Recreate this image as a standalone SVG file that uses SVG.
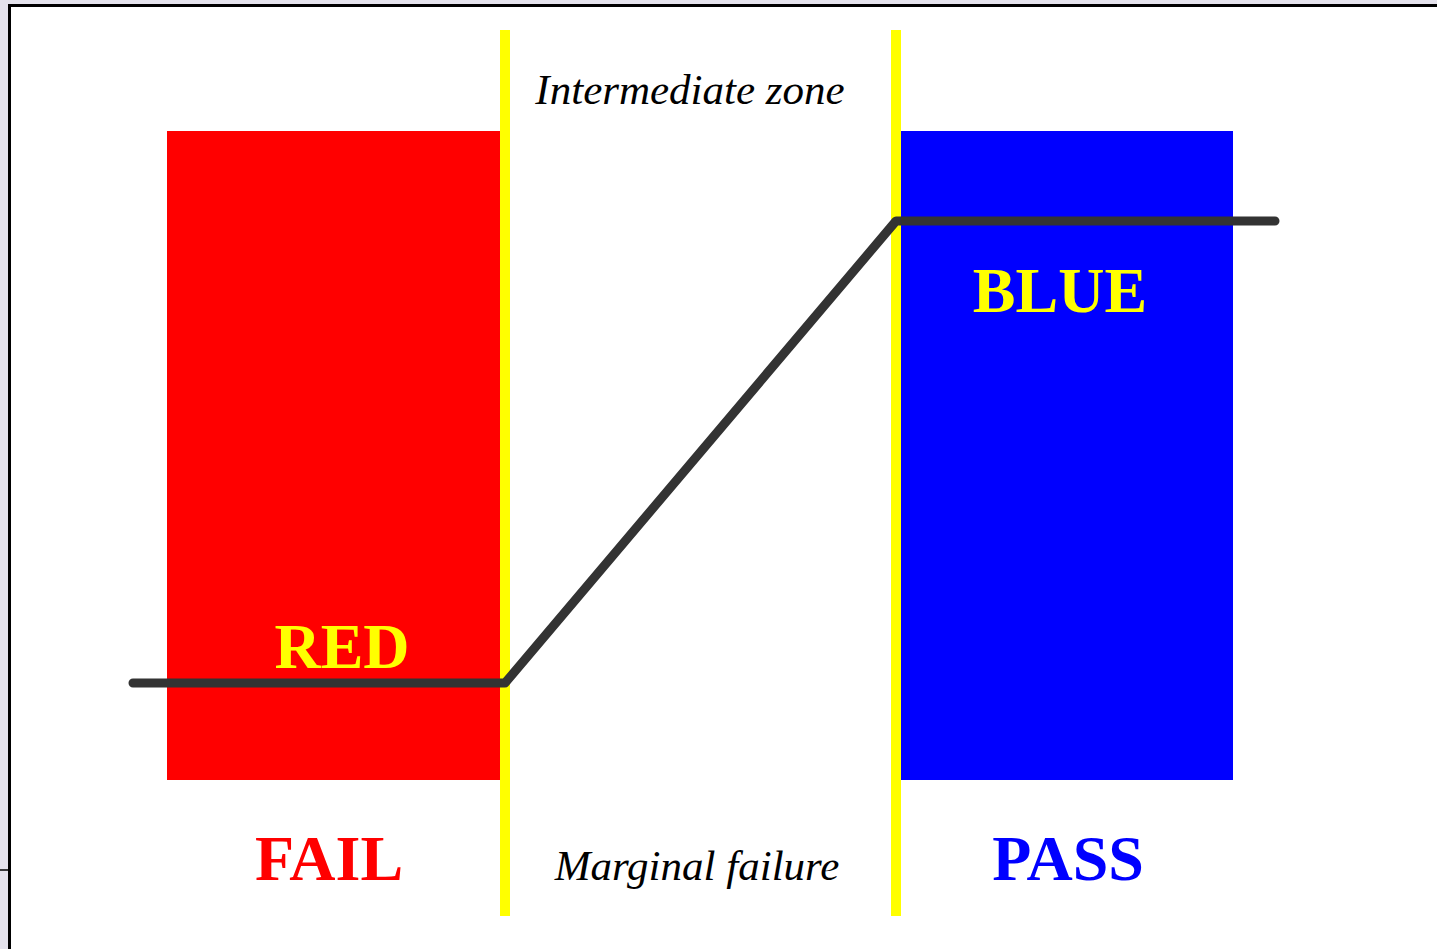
<svg xmlns="http://www.w3.org/2000/svg" width="1437" height="949" viewBox="0 0 1437 949">
<style>
.b{font-family:"Liberation Serif","Times New Roman",serif;font-weight:bold;font-size:64px;text-anchor:middle}
.i{font-family:"Liberation Serif","Times New Roman",serif;font-style:italic;font-size:43px;text-anchor:middle;fill:#000}
.y{fill:#ffff00}
</style>
<rect x="0" y="0" width="1437" height="949" fill="#e4e2ec"/>
<rect x="9" y="5" width="1428" height="944" fill="#ffffff"/>
<line x1="9.5" y1="4" x2="9.5" y2="949" stroke="#000" stroke-width="3"/>
<line x1="8" y1="5.5" x2="1437" y2="5.5" stroke="#000" stroke-width="3"/>
<line x1="0" y1="870" x2="8" y2="870" stroke="#000" stroke-width="1.5"/>
<g id="red"><rect x="167" y="131" width="333" height="649" fill="#ff0000"/><text class="b y" x="342" y="668">RED</text></g>
<g id="blue"><rect x="901" y="131" width="332" height="649" fill="#0000ff"/><text class="b y" x="1060" y="312">BLUE</text></g>
<g id="dividers"><rect x="500" y="30" width="10" height="886" fill="#ffff00"/><rect x="891" y="30" width="10" height="886" fill="#ffff00"/></g>
<g id="connectors"><polyline points="133,683 505,683 896,221 1275,221" fill="none" stroke="#333333" stroke-width="9" stroke-linecap="round" stroke-linejoin="round"/></g>
<g id="labels">
<text class="i" x="690" y="104">Intermediate zone</text>
<text class="i" x="697" y="880">Marginal failure</text>
<text class="b" x="329" y="880" fill="#ff0000">FAIL</text>
<text class="b" x="1068" y="880" fill="#0000ff">PASS</text>
</g>
</svg>
